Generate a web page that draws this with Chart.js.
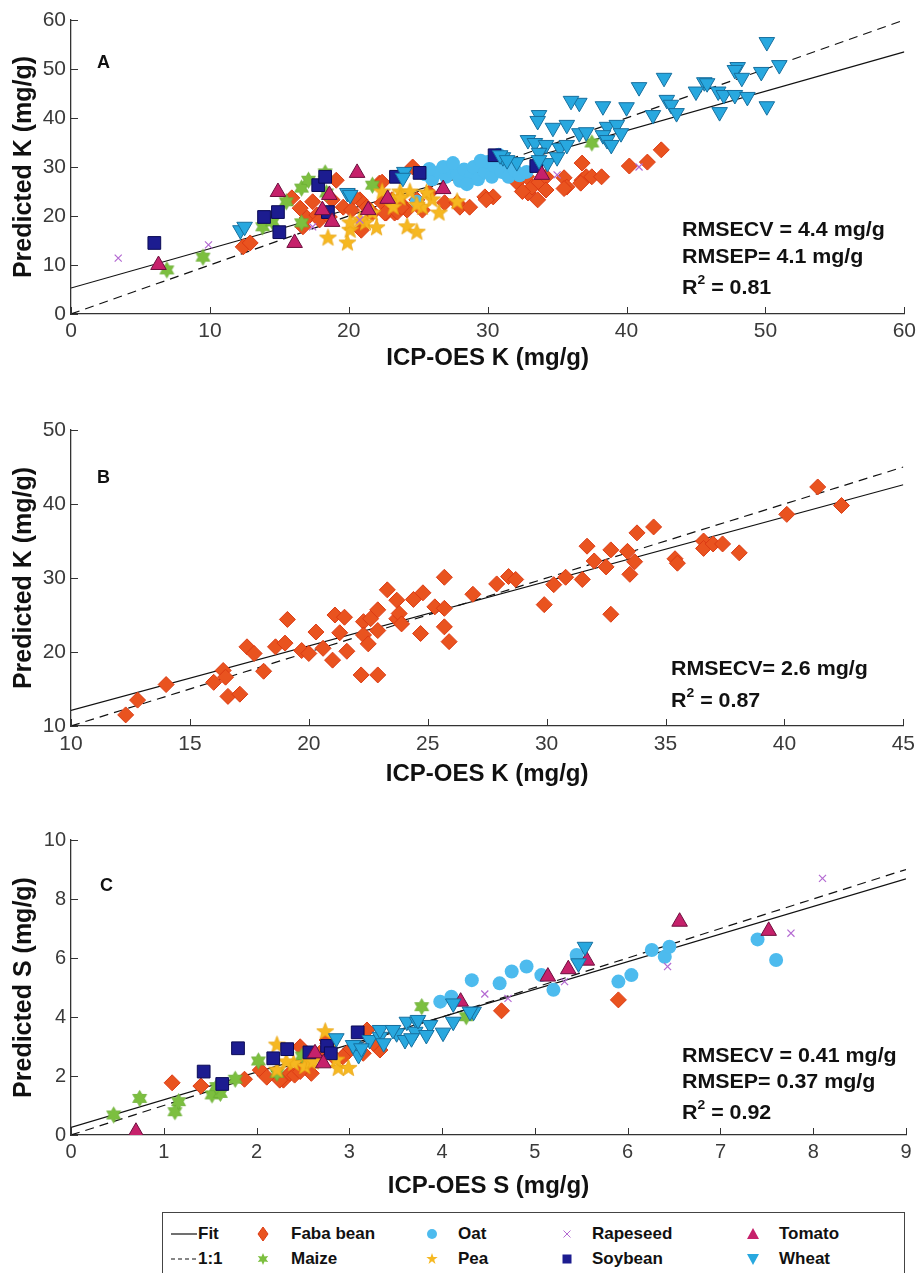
<!DOCTYPE html>
<html>
<head>
<meta charset="utf-8">
<script src="https://cdn.jsdelivr.net/npm/chart.js@4.4.1/dist/chart.umd.min.js"></script>
<style>
  html, body { margin: 0; padding: 0; background: #fff; }
  #page { position: relative; width: 921px; height: 1273px; overflow: hidden; font-family: "Liberation Sans", Arial, sans-serif; }
  .panel { position: absolute; left: 0; }
  .note { position: absolute; font-weight: bold; font-size: 20px; line-height: 24px; color: #111; white-space: nowrap; transform: scaleX(1.07); transform-origin: left center; }
  .note sup { font-size: 13px; line-height: 0; position: relative; top: -2px; }
  .tag { position: absolute; font-weight: bold; font-size: 18px; line-height: 20px; color: #111; }
  #legend { position: absolute; left: 162px; top: 1212px; width: 743px; height: 80px; border: 1.3px solid #444; box-sizing: border-box; }
  .lg { position: absolute; font-weight: bold; font-size: 17px; line-height: 20px; color: #111; white-space: nowrap; }
  .sym { position: absolute; }
</style>
</head>
<body>
<div id="page">
  <canvas id="chartA" class="panel" style="top:0px" width="921" height="385"></canvas>
  <canvas id="chartB" class="panel" style="top:395px" width="921" height="405"></canvas>
  <canvas id="chartC" class="panel" style="top:805px" width="921" height="400"></canvas>

  <div class="tag" style="left:97px;top:52px">A</div>
  <div class="note" style="left:682px;top:217px">RMSECV = 4.4 mg/g</div>
  <div class="note" style="left:682px;top:244px">RMSEP= 4.1 mg/g</div>
  <div class="note" style="left:682px;top:275px">R<sup>2</sup> = 0.81</div>

  <div class="tag" style="left:97px;top:467px">B</div>
  <div class="note" style="left:671px;top:656px">RMSECV= 2.6 mg/g</div>
  <div class="note" style="left:671px;top:688px">R<sup>2</sup> = 0.87</div>

  <div class="tag" style="left:100px;top:875px">C</div>
  <div class="note" style="left:682px;top:1043px">RMSECV = 0.41 mg/g</div>
  <div class="note" style="left:682px;top:1069px">RMSEP= 0.37 mg/g</div>
  <div class="note" style="left:682px;top:1100px">R<sup>2</sup> = 0.92</div>

  <div id="legend"></div>
</div>

<script>
'use strict';

// ---------- data: panel A (K, all crops) ----------
const fabaA = [[12.4,13.7],[12.9,14.5],[15.9,23.7],[16.5,21.6],[16.7,17.8],[17.0,19.6],[17.4,22.9],[17.7,20.2],[17.9,19.2],[18.6,19.8],[19.1,27.3],[18.8,23.3],[19.6,21.8],[20.2,21.2],[20.8,23.3],[20.9,17.1],[21.3,21.8],[21.7,20.6],[22.2,26.7],[22.4,22.7],[22.7,20.6],[22.4,26.9],[23.1,23.3],[23.3,20.6],[23.7,22.7],[24.2,21.2],[24.6,30.0],[24.9,23.3],[25.3,21.2],[25.8,24.7],[26.9,22.7],[27.8,22.7],[28.0,21.8],[28.7,21.8],[29.8,23.9],[30.4,23.9],[29.9,23.3],[32.1,26.9],[32.8,28.0],[32.9,24.7],[33.2,25.9],[33.6,23.3],[33.7,26.9],[34.2,28.0],[35.5,27.8],[35.7,25.9],[36.8,30.8],[36.8,27.3],[37.1,28.0],[37.5,28.0],[38.2,28.0],[40.2,30.2],[41.5,31.0],[42.5,33.5],[32.5,25.0],[34.2,25.3],[35.5,25.6],[36.7,26.7],[20.4,23.9],[21.5,21.2],[22.6,20.6],[23.5,20.8],[23.8,21.8]];
const maizeA = [[6.9,9.0],[9.5,11.6],[13.8,17.8],[14.5,18.8],[15.5,22.9],[16.6,25.7],[17.1,27.3],[18.3,28.8],[16.6,18.6],[21.7,26.3],[18.4,24.7],[37.5,34.9]];
const oatA = [[25.5,28.5],[26.0,27.5],[26.5,29.0],[27.0,28.0],[27.2,29.8],[27.8,28.5],[28.0,27.2],[28.3,29.5],[28.8,28.2],[29.0,30.0],[29.3,27.5],[29.8,29.0],[30.0,31.0],[30.3,28.0],[30.5,30.2],[31.0,29.0],[31.2,31.5],[31.5,28.0],[31.8,30.0],[32.0,29.2],[32.3,28.3],[26.8,30.0],[25.8,29.6],[27.5,30.8],[29.5,31.3],[30.8,32.5],[32.8,29.0],[28.5,26.5],[24.9,22.9]];
const peaA = [[18.5,15.5],[19.9,14.5],[20.1,17.1],[21.2,18.6],[22.0,17.6],[21.7,20.6],[23.2,23.3],[23.7,24.9],[24.2,17.8],[24.9,16.7],[25.3,21.8],[26.0,23.3],[26.5,20.6],[27.8,22.9],[20.8,19.2],[22.4,24.9],[24.4,24.9],[25.6,24.7],[23.7,23.7],[23.2,21.8],[24.9,22.2],[20.1,18.6]];
const rapeA = [[3.4,11.4],[9.9,14.1],[17.4,17.8],[20.8,19.2],[35.0,28.4],[40.9,30.0]];
const soyA = [[6.0,14.5],[13.9,19.8],[14.9,20.8],[15.0,16.7],[17.8,26.3],[18.3,28.0],[18.5,20.8],[23.4,28.0],[25.1,28.8],[30.5,32.4],[33.5,30.2]];
const tomatoA = [[6.3,10.0],[14.9,24.9],[16.1,14.5],[18.1,21.2],[18.6,24.3],[18.8,18.8],[20.6,28.8],[21.4,21.2],[22.8,23.5],[26.8,25.5],[33.9,28.4]];
const wheatA = [[50.1,55.5],[51.0,50.8],[48.0,50.4],[47.8,49.8],[48.3,48.2],[49.7,49.4],[42.7,48.2],[40.9,46.3],[45.6,47.3],[45.8,47.1],[45.0,45.4],[46.6,45.4],[47.0,44.7],[47.8,44.7],[48.7,44.3],[50.1,42.4],[46.7,41.2],[42.9,43.7],[43.2,42.7],[43.6,41.0],[41.9,40.6],[40.0,42.2],[38.3,42.4],[36.6,43.1],[36.0,43.5],[33.7,40.6],[33.6,39.4],[34.7,38.0],[35.7,38.6],[36.6,36.9],[37.1,37.1],[38.6,38.2],[39.3,38.6],[39.6,36.9],[38.3,36.5],[38.6,35.5],[38.9,34.5],[32.9,35.5],[33.4,34.9],[34.2,34.5],[35.2,33.9],[35.7,34.5],[33.7,32.9],[31.1,32.0],[32.1,31.0],[34.3,30.8],[35.0,32.0],[33.7,31.4],[30.9,32.4],[31.4,31.4],[24.0,29.0],[23.9,27.8],[19.9,24.7],[20.1,24.3],[12.2,17.1],[12.5,17.8]];
const fitA = [[0,5.3],[60,53.5]];
const oneA = [[0,0],[60,60]];

// ---------- data: panel B (K, faba bean) ----------
const fabaB = [[12.3,11.5],[12.8,13.5],[14.0,15.6],[16.0,15.9],[16.4,17.5],[16.5,16.6],[16.6,14.0],[17.1,14.3],[17.4,20.7],[17.7,19.8],[18.1,17.4],[18.6,20.7],[19.0,21.2],[19.1,24.4],[19.7,20.2],[20.0,19.8],[20.3,22.7],[20.6,20.5],[21.0,18.9],[21.1,25.0],[21.5,24.7],[21.3,22.6],[21.6,20.1],[22.2,16.9],[22.3,24.1],[22.3,22.3],[22.5,21.1],[22.6,24.5],[22.9,16.9],[22.9,22.9],[22.9,25.7],[23.3,28.4],[23.7,27.0],[23.7,24.5],[23.8,25.2],[23.9,23.8],[24.4,27.1],[24.8,28.0],[24.7,22.5],[25.3,26.1],[25.7,30.1],[25.7,25.9],[25.7,23.4],[25.9,21.4],[26.9,27.8],[27.9,29.2],[28.4,30.2],[28.7,29.8],[29.9,26.4],[30.3,29.1],[30.8,30.1],[31.5,29.8],[31.7,34.3],[32.0,32.3],[32.5,31.5],[32.7,33.8],[32.7,25.1],[33.4,33.6],[33.5,30.5],[33.7,32.2],[33.8,36.1],[34.5,36.9],[35.4,32.6],[35.5,32.0],[36.6,35.0],[36.6,34.0],[37.0,34.6],[37.4,34.6],[38.1,33.4],[40.1,38.6],[41.4,42.3],[42.4,39.8]];
const fitB = [[10,12.1],[45,42.6]];
const oneB = [[10,10],[45,45]];

// ---------- data: panel C (S, all crops) ----------
const fabaC = [[1.09,1.77],[1.40,1.66],[1.87,1.89],[2.04,2.20],[2.11,1.96],[2.29,1.86],[2.36,2.09],[2.41,2.03],[2.47,2.99],[2.52,2.32],[2.59,2.09],[2.68,2.77],[2.77,3.11],[2.83,2.65],[2.97,2.77],[3.15,2.77],[3.19,3.56],[3.33,2.88],[2.25,1.86],[2.47,2.15],[2.76,3.22],[2.93,2.65],[3.26,3.11],[4.64,4.21],[5.90,4.58]];
const maizeC = [[0.46,0.68],[0.74,1.24],[1.12,0.79],[1.16,1.13],[1.52,1.36],[1.61,1.41],[1.57,1.64],[1.77,1.89],[2.02,2.51],[2.22,2.09],[2.49,2.68],[3.78,4.35],[4.26,4.01]];
const oatC = [[4.32,5.25],[4.62,5.14],[4.75,5.54],[4.91,5.71],[5.07,5.42],[5.20,4.92],[5.45,6.10],[5.90,5.20],[6.04,5.42],[6.26,6.27],[6.40,6.04],[6.45,6.38],[7.40,6.63],[7.60,5.93],[3.98,4.52],[4.10,4.69]];
const peaC = [[2.22,3.05],[2.22,2.20],[2.52,2.32],[2.74,3.50],[2.81,3.11],[2.88,2.26],[2.99,2.26],[2.58,2.48],[2.40,2.43],[2.32,2.48],[2.86,2.54],[2.61,2.48]];
const rapeC = [[4.46,4.78],[4.71,4.63],[5.32,5.20],[6.43,5.71],[7.76,6.84],[8.10,8.70]];
const soyC = [[1.43,2.15],[1.63,1.73],[1.80,2.94],[2.18,2.60],[2.33,2.91],[2.57,2.80],[2.76,3.02],[2.80,2.77],[3.09,3.48]];
const tomatoC = [[0.70,0.11],[2.63,2.77],[2.72,2.43],[4.20,4.52],[5.14,5.37],[5.36,5.62],[5.56,5.91],[6.56,7.23],[7.52,6.92]];
const wheatC = [[2.86,3.28],[3.06,2.99],[3.10,2.71],[3.22,3.22],[3.33,3.33],[3.37,3.11],[3.51,3.45],[3.60,3.22],[3.62,3.84],[3.73,3.84],[3.71,3.50],[3.87,3.73],[4.01,3.47],[4.12,3.84],[4.12,4.46],[3.04,3.05],[3.13,2.94],[3.33,3.56],[3.47,3.56],[3.67,3.28],[3.74,3.90],[3.83,3.39],[4.34,4.18],[4.30,4.18],[5.47,5.82],[5.54,6.38]];
const fitC = [[0,0.26],[9,8.68]];
const oneC = [[0,0],[9,9]];

// ---------- axes ----------
const ticksAx = [0, 60, 10];
const ticksAy = [0, 60, 10];
const ticksBx = [10, 45, 5];
const ticksBy = [10, 50, 10];
const ticksCx = [0, 9, 1];
const ticksCy = [0, 10, 2];

// ---------- style ----------
const AXIS_COLOR = '#333';
const TICK_COLOR = '#3a3a3a';
const SANS = '"Liberation Sans", Arial, sans-serif';

function starCanvas(points, outer, inner, fill, stroke) {
  const size = Math.ceil(outer * 2 + 3);
  const c = document.createElement('canvas');
  c.width = c.height = size;
  const g = c.getContext('2d');
  g.translate(size / 2, size / 2);
  g.beginPath();
  for (let i = 0; i < points * 2; i++) {
    const r = i % 2 ? inner : outer;
    const a = -Math.PI / 2 + i * Math.PI / points;
    g.lineTo(Math.cos(a) * r, Math.sin(a) * r);
  }
  g.closePath();
  g.fillStyle = fill;
  g.fill();
  if (stroke) { g.strokeStyle = stroke; g.lineWidth = 0.8; g.stroke(); }
  return c;
}

const maizeImg = starCanvas(6, 8, 4.6, '#7cbf3f', '#6aad32');
const peaImg = starCanvas(5, 9, 3.8, '#f6b821', '#eaa512');

const STYLE = {
  faba:   { label: 'Faba bean', pointStyle: 'rectRot', pointRadius: 8, backgroundColor: '#e9531f', borderColor: '#dc3b14', borderWidth: 1, order: 8 },
  maize:  { label: 'Maize', pointStyle: maizeImg, pointRadius: 8, backgroundColor: '#7cbf3f', order: 7 },
  oat:    { label: 'Oat', pointStyle: 'circle', pointRadius: 7, backgroundColor: '#4dbbee', borderColor: '#4dbbee', borderWidth: 0, order: 6 },
  pea:    { label: 'Pea', pointStyle: peaImg, pointRadius: 8, backgroundColor: '#f6b821', order: 5 },
  rape:   { label: 'Rapeseed', pointStyle: 'crossRot', pointRadius: 5, borderColor: '#b46ad2', borderWidth: 1.2, order: 4 },
  soy:    { label: 'Soybean', pointStyle: 'rect', pointRadius: 9, backgroundColor: '#1c1c90', borderColor: '#0b0b55', borderWidth: 1, order: 3 },
  tomato: { label: 'Tomato', pointStyle: 'triangle', pointRadius: 9, backgroundColor: '#c6216b', borderColor: '#6d0f3e', borderWidth: 1, order: 2 },
  wheat:  { label: 'Wheat', pointStyle: 'triangle', rotation: 180, pointRadius: 9, backgroundColor: '#28a8df', borderColor: '#176f9e', borderWidth: 1, order: 1 },
};

function pts(arr) { return arr.map(([x, y]) => ({ x, y })); }

function scatter(arr, key) {
  return Object.assign({ data: pts(arr), pointHoverRadius: STYLE[key].pointRadius }, STYLE[key]);
}

function refLine(arr, dashed) {
  return {
    label: dashed ? '1:1' : 'Fit', data: pts(arr), showLine: true, pointRadius: 0,
    borderColor: '#111', borderWidth: 1.2, borderDash: dashed ? [9, 6] : [], order: 20,
  };
}

// MATLAB style ticks that point into the plot
const inwardTicks = {
  id: 'inwardTicks',
  afterDatasetsDraw(chart) {
    const { ctx, chartArea, scales: { x, y } } = chart;
    ctx.save();
    ctx.strokeStyle = AXIS_COLOR;
    ctx.lineWidth = 1;
    ctx.beginPath();
    for (const t of x.ticks) {
      const px = Math.round(x.getPixelForValue(t.value)) + 0.5;
      ctx.moveTo(px, chartArea.bottom);
      ctx.lineTo(px, chartArea.bottom - 7);
    }
    for (const t of y.ticks) {
      const py = Math.round(y.getPixelForValue(t.value)) + 0.5;
      ctx.moveTo(chartArea.left, py);
      ctx.lineTo(chartArea.left + 7, py);
    }
    ctx.stroke();
    ctx.restore();
  },
};

function makeChart(id, datasets, p) {
  const [x0, x1, xs] = p.xt;
  const [y0, y1, ys] = p.yt;
  return new Chart(document.getElementById(id), {
    type: 'scatter',
    data: { datasets },
    options: {
      responsive: false,
      animation: false,
      devicePixelRatio: 1,
      layout: { padding: { top: p.top, right: 15, bottom: 0, left: 0 } },
      plugins: { legend: { display: false }, tooltip: { enabled: false } },
      scales: {
        x: {
          type: 'linear', min: x0, max: x1,
          ticks: { stepSize: xs, color: TICK_COLOR, font: { family: SANS, size: p.tickSize }, padding: p.xPad, maxRotation: 0, autoSkip: false },
          grid: { display: false, drawTicks: false },
          border: { display: true, color: AXIS_COLOR, width: 1.3 },
          title: { display: true, text: p.xTitle, color: '#111', font: { family: SANS, size: 24, weight: 'bold' }, padding: { top: p.xTitlePad, bottom: p.xTitlePad } },
          afterFit(s) { s.height = p.xHeight; },
        },
        y: {
          type: 'linear', min: y0, max: y1,
          ticks: { stepSize: ys, color: TICK_COLOR, font: { family: SANS, size: p.tickSize }, padding: 5 },
          grid: { display: false, drawTicks: false },
          border: { display: true, color: AXIS_COLOR, width: 1.3 },
          title: { display: true, text: p.yTitle, color: '#111', font: { family: SANS, size: 25, weight: 'bold' }, padding: { top: 9, bottom: 9 } },
          afterFit(s) { s.width = 71; },
        },
      },
    },
    plugins: [inwardTicks],
  });
}

makeChart('chartA', [
  refLine(fitA, false), refLine(oneA, true),
  scatter(fabaA, 'faba'), scatter(maizeA, 'maize'), scatter(oatA, 'oat'), scatter(peaA, 'pea'),
  scatter(rapeA, 'rape'), scatter(soyA, 'soy'), scatter(tomatoA, 'tomato'), scatter(wheatA, 'wheat'),
], { xt: ticksAx, yt: ticksAy, top: 20, xHeight: 71, xPad: 5, xTitlePad: 12.6, tickSize: 21,
     xTitle: 'ICP-OES K (mg/g)', yTitle: 'Predicted K (mg/g)' });

makeChart('chartB', [
  refLine(fitB, false), refLine(oneB, true), scatter(fabaB, 'faba'),
], { xt: ticksBx, yt: ticksBy, top: 35, xHeight: 74, xPad: 6, xTitlePad: 11.6, tickSize: 21,
     xTitle: 'ICP-OES K (mg/g)', yTitle: 'Predicted K (mg/g)' });

makeChart('chartC', [
  refLine(fitC, false), refLine(oneC, true),
  scatter(fabaC, 'faba'), scatter(maizeC, 'maize'), scatter(oatC, 'oat'), scatter(peaC, 'pea'),
  scatter(rapeC, 'rape'), scatter(soyC, 'soy'), scatter(tomatoC, 'tomato'), scatter(wheatC, 'wheat'),
], { xt: ticksCx, yt: ticksCy, top: 35, xHeight: 70, xPad: 5, xTitlePad: 4, tickSize: 20,
     xTitle: 'ICP-OES S (mg/g)', yTitle: 'Predicted S (mg/g)' });

// ---------- legend ----------
const LEGEND_ROWS = [21, 46];
const LEGEND_ITEMS = [
  { col: 0, row: 0, text: 'Fit', sym: '<line x1="0" y1="8" x2="26" y2="8" stroke="#111" stroke-width="1.2"/>', w: 26 },
  { col: 0, row: 1, text: '1:1', sym: '<line x1="0" y1="8" x2="26" y2="8" stroke="#111" stroke-width="1.2" stroke-dasharray="4 3"/>', w: 26 },
  { col: 1, row: 0, text: 'Faba bean', sym: '<polygon points="6,1 11,8 6,15 1,8" fill="#e9531f" stroke="#dc3b14"/>', w: 12 },
  { col: 1, row: 1, text: 'Maize', sym: '<polygon points="6,2 7.5,5.4 11.2,5 9,8 11.2,11 7.5,10.6 6,14 4.5,10.6 0.8,11 3,8 0.8,5 4.5,5.4" fill="#7cbf3f"/>', w: 12 },
  { col: 2, row: 0, text: 'Oat', sym: '<circle cx="6" cy="8" r="5" fill="#4dbbee"/>', w: 12 },
  { col: 2, row: 1, text: 'Pea', sym: '<polygon points="6,2 7.4,6.1 11.7,6.1 8.2,8.7 9.5,12.9 6,10.3 2.5,12.9 3.8,8.7 0.3,6.1 4.6,6.1" fill="#f6b821"/>', w: 12 },
  { col: 3, row: 0, text: 'Rapeseed', sym: '<path d="M2.5,4.5 L9.5,11.5 M9.5,4.5 L2.5,11.5" stroke="#b46ad2" stroke-width="1"/>', w: 12 },
  { col: 3, row: 1, text: 'Soybean', sym: '<rect x="1.5" y="3.5" width="9" height="9" fill="#1c1c90"/>', w: 12 },
  { col: 4, row: 0, text: 'Tomato', sym: '<polygon points="6,2 12,13 0,13" fill="#c6216b"/>', w: 12 },
  { col: 4, row: 1, text: 'Wheat', sym: '<polygon points="0,3 12,3 6,14" fill="#28a8df"/>', w: 12 },
];
const LEGEND_SYM_X = [8, 94, 263, 398, 584];
const LEGEND_TEXT_X = [35, 128, 295, 429, 616];

function buildLegend() {
  const box = document.getElementById('legend');
  for (const it of LEGEND_ITEMS) {
    const cy = LEGEND_ROWS[it.row];
    const s = document.createElement('div');
    s.className = 'sym';
    s.style.left = LEGEND_SYM_X[it.col] + 'px';
    s.style.top = (cy - 8) + 'px';
    s.innerHTML = `<svg width="${it.w}" height="16" viewBox="0 0 ${it.w} 16">${it.sym}</svg>`;
    box.appendChild(s);
    const t = document.createElement('div');
    t.className = 'lg';
    t.style.left = LEGEND_TEXT_X[it.col] + 'px';
    t.style.top = (cy - 10) + 'px';
    t.textContent = it.text;
    box.appendChild(t);
  }
}
buildLegend();
</script>
</body>
</html>
